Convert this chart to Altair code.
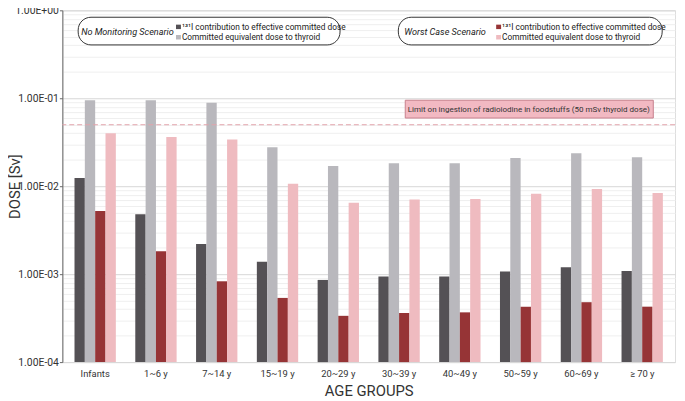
import altair as alt
import pandas as pd

groups = ["Infants", "1~6 y", "7~14 y", "15~19 y", "20~29 y", "30~39 y",
          "40~49 y", "50~59 y", "60~69 y", "≥ 70 y"]
nm_effective = [0.0124, 0.0048, 0.0022, 0.00138, 0.00086, 0.00094, 0.00094, 0.00107, 0.0012, 0.00109]
nm_thyroid = [0.095, 0.095, 0.0887, 0.0278, 0.0170, 0.0183, 0.0183, 0.0210, 0.0237, 0.0214]
wc_effective = [0.00524, 0.00182, 0.00083, 0.000537, 0.000336, 0.000362, 0.000368, 0.000426, 0.00048, 0.000427]
wc_thyroid = [0.0401, 0.0362, 0.0339, 0.0107, 0.00647, 0.00705, 0.00717, 0.0082, 0.0093, 0.00836]
series_names = ["NM effective", "NM thyroid", "WC effective", "WC thyroid"]
series_colors = ["#545155", "#b9b8bd", "#963436", "#efbbc0"]
limit_value = 0.05
limit_text = "Limit on ingestion of radioiodine in foodstuffs (50 mSv thyroid dose)"

rows = []
for s, vals in zip(series_names, [nm_effective, nm_thyroid, wc_effective, wc_thyroid]):
    for g, v in zip(groups, vals):
        rows.append({"group": g, "series": s, "value": v})
df = pd.DataFrame(rows)

FONT = "Roboto"
tick_vals = []
for e in [-4, -3, -2, -1]:
    for m in range(1, 10):
        tick_vals.append(round(m * 10 ** e, 10))
tick_vals.append(1.0)

is_decade = "abs(log(datum.value)/LN10 - round(log(datum.value)/LN10)) < 0.001"
label_expr = (f"({is_decade}) ? ('1.00E' + (round(log(datum.value)/LN10) < 0 ? '-0' + abs(round(log(datum.value)/LN10)) : '+0' + round(log(datum.value)/LN10))) : ''")

W, H = 620, 356

bars = alt.Chart(df).mark_bar().encode(
    x=alt.X("group:N", sort=groups, scale=alt.Scale(paddingInner=0.32, paddingOuter=0.2),
            axis=alt.Axis(title="AGE GROUPS", labelAngle=0, ticks=False, domain=False,
                          labelFont=FONT, labelFontSize=9.5, labelColor="#333", labelPadding=7,
                          titleFont=FONT, titleFontSize=15, titleFontWeight="normal",
                          titleColor="#333", titlePadding=5)),
    xOffset=alt.XOffset("series:N", sort=series_names),
    y=alt.Y("value:Q", scale=alt.Scale(type="log", domain=[1e-4, 1]),
            axis=alt.Axis(title="DOSE [Sv]", values=tick_vals, labelExpr=label_expr,
                          labelFont=FONT, labelFontSize=10.5, labelColor="#333",
                          tickSize=3, tickColor={"condition": {"test": is_decade, "value": "#666"}, "value": "transparent"},
                          gridColor={"condition": {"test": is_decade, "value": "#d6d6d6"}, "value": "#efefef"},
                          domainColor="#666", labelPadding=1,
                          titleFont=FONT, titleFontSize=15, titleFontWeight="normal",
                          titleColor="#333", titleX=-48, titleY=H / 2, titleAlign="center",
                          titleBaseline="middle")),
    y2=alt.datum(1e-4),
    color=alt.Color("series:N", sort=series_names,
                    scale=alt.Scale(domain=series_names, range=series_colors), legend=None),
)

limit_rule = alt.Chart(pd.DataFrame({"v": [limit_value]})).mark_rule(
    color="#e3a3ab", strokeDash=[5, 3], strokeWidth=1
).encode(y=alt.Y("v:Q"))

# Limit label box
limit_box = alt.Chart(pd.DataFrame({"t": [limit_text]})).mark_rect(
    fill="#f2b9c2", stroke="#c77f8c", strokeWidth=1
).encode(x=alt.value(347), x2=alt.value(598), y=alt.value(91), y2=alt.value(109))
limit_label = alt.Chart(pd.DataFrame({"t": [limit_text]})).mark_text(
    font=FONT, fontSize=8.1, color="#333", align="center", baseline="middle"
).encode(x=alt.value(472), y=alt.value(100.5), text="t:N")

def legend_block(x0, x1, title, title_x, sq_x, colors):
    box = alt.Chart(pd.DataFrame({"a": [0]})).mark_rect(
        fill="white", stroke="#333", strokeWidth=1, cornerRadius=13
    ).encode(x=alt.value(x0), x2=alt.value(x1), y=alt.value(7), y2=alt.value(35))
    ttl = alt.Chart(pd.DataFrame({"t": [title]})).mark_text(
        font=FONT, fontSize=9.2, fontStyle="italic", color="#222", align="left", baseline="middle"
    ).encode(x=alt.value(title_x), y=alt.value(21.5), text="t:N")
    sq1 = alt.Chart(pd.DataFrame({"a": [0]})).mark_rect(fill=colors[0]).encode(
        x=alt.value(sq_x), x2=alt.value(sq_x + 5), y=alt.value(14.5), y2=alt.value(19))
    sq2 = alt.Chart(pd.DataFrame({"a": [0]})).mark_rect(fill=colors[1]).encode(
        x=alt.value(sq_x), x2=alt.value(sq_x + 5), y=alt.value(25), y2=alt.value(29.5))
    t1 = alt.Chart(pd.DataFrame({"t": ["¹³¹I contribution to effective committed dose"]})).mark_text(
        font=FONT, fontSize=8.4, color="#222", align="left", baseline="middle"
    ).encode(x=alt.value(sq_x + 6), y=alt.value(16.5), text="t:N")
    t2 = alt.Chart(pd.DataFrame({"t": ["Committed equivalent dose to thyroid"]})).mark_text(
        font=FONT, fontSize=8.4, color="#222", align="left", baseline="middle"
    ).encode(x=alt.value(sq_x + 6), y=alt.value(27.5), text="t:N")
    return [box, ttl, sq1, sq2, t1, t2]

leg1 = legend_block(16, 281, "No Monitoring Scenario", 19, 115, series_colors[0:2])
leg2 = legend_block(340, 607, "Worst  Case Scenario", 346, 439, series_colors[2:4])

chart = alt.layer(bars, limit_rule, limit_box, limit_label, *leg1, *leg2).properties(
    width=W, height=H, autosize="none",
    padding={"left": 55, "top": 0, "right": 2, "bottom": 37},
).configure_view(stroke="#666", strokeWidth=1).configure(background="white")

chart.save("out.html", embed_options={"renderer": "svg", "actions": False})
